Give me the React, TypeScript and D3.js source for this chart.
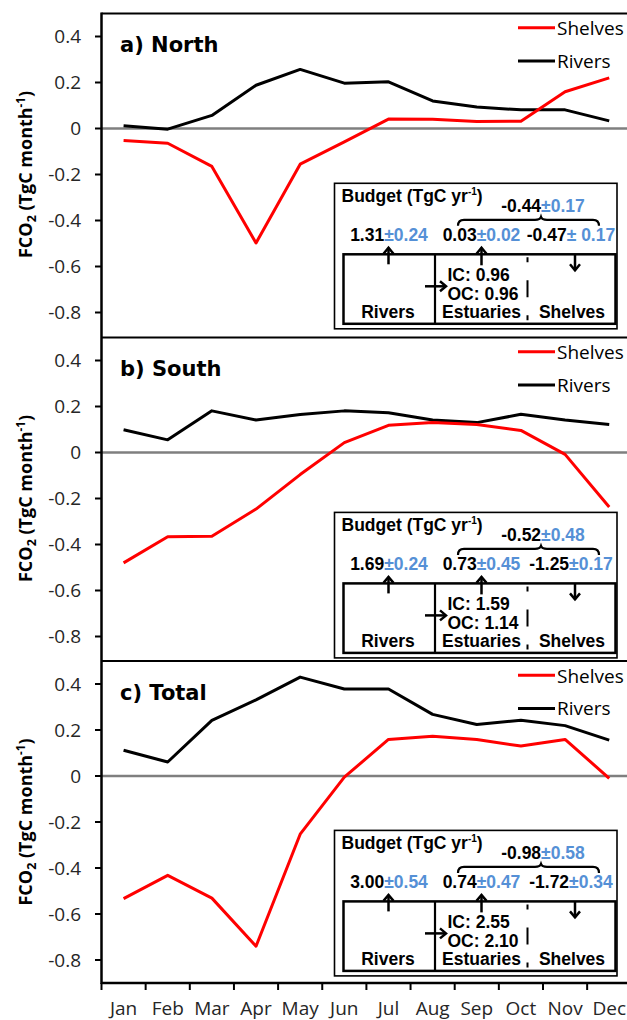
import React from "react";
import * as d3 from "d3";

const months = ["Jan","Feb","Mar","Apr","May","Jun","Jul","Aug","Sep","Oct","Nov","Dec"];
const yTicks = [0.4, 0.2, 0, -0.2, -0.4, -0.6, -0.8];
const yTickLabels = ["0.4","0.2","0","-0.2","-0.4","-0.6","-0.8"];

const panelTitles = ["a) North", "b) South", "c) Total"];

const northRivers = [0.012, -0.003, 0.057, 0.188, 0.257, 0.197, 0.203, 0.12, 0.093, 0.081, 0.081, 0.033];
const northShelves = [-0.052, -0.064, -0.165, -0.498, -0.155, -0.058, 0.041, 0.04, 0.03, 0.032, 0.16, 0.22];
const southRivers = [0.099, 0.055, 0.181, 0.141, 0.165, 0.181, 0.173, 0.141, 0.13, 0.166, 0.141, 0.122];
const southShelves = [-0.48, -0.366, -0.364, -0.246, -0.096, 0.043, 0.118, 0.13, 0.122, 0.096, -0.008, -0.237];
const totalRivers = [0.112, 0.061, 0.242, 0.331, 0.43, 0.378, 0.378, 0.268, 0.224, 0.242, 0.219, 0.156];
const totalShelves = [-0.533, -0.432, -0.531, -0.74, -0.253, -0.005, 0.159, 0.173, 0.159, 0.13, 0.159, -0.01];

const budgetRivers = ["1.31", "1.69", "3.00"];
const budgetRiversErr = ["±0.24", "±0.24", "±0.54"];
const budgetEstuaries = ["0.03", "0.73", "0.74"];
const budgetEstuariesErr = ["±0.02", "±0.45", "±0.47"];
const budgetShelves = ["-0.47", "-1.25", "-1.72"];
const budgetShelvesErr = ["± 0.17", "±0.17", "±0.34"];
const budgetTotal = ["-0.44", "-0.52", "-0.98"];
const budgetTotalErr = ["±0.17", "±0.48", "±0.58"];
const budgetIC = ["0.96", "1.59", "2.55"];
const budgetOC = ["0.96", "1.14", "2.10"];

const riversSeries = [northRivers, southRivers, totalRivers];
const shelvesSeries = [northShelves, southShelves, totalShelves];

const W = 627, H = 1020;
const panelTops = [13.5, 337.5, 661];
const panelH = 322;
const insetTops = [183.3, 512.4, 830.4];
const axisX = 101.5;
const band = 44.15;
const BLUE = "#5590d6";
const tickFont = "'Open Sans', sans-serif";
const boxFont = "'Liberation Sans', Arial, sans-serif";

const x = d3.scaleBand<string>().domain(months).range([axisX, axisX + band * 12]).padding(0);

function Inset({ top, i }: { top: number; i: number }) {
  const innerTop = top + 71;
  const innerBot = top + 140.5;
  const numY = top + 57.5;
  const braceY = top + 36.5;
  const fs = 17.5;
  return (
    <g fontFamily={boxFont} fontWeight="bold" fontSize={fs} fill="#000">
      <rect x={334.5} y={top} width={282.5} height={145.5} fill="#fff" stroke="#000" strokeWidth={1.6} />
      <text x={341.5} y={top + 19}>
        Budget (TgC yr<tspan fontSize={10} dy={-7}>-1</tspan><tspan dy={7}>)</tspan>
      </text>
      <text x={543} y={top + 28.5} textAnchor="middle">
        <tspan>{budgetTotal[i]}</tspan><tspan fill={BLUE}>{budgetTotalErr[i]}</tspan>
      </text>
      <path
        d={`M458,${braceY + 6} Q458,${braceY} 464,${braceY} L535,${braceY} Q540,${braceY} 541,${braceY - 3} Q542,${braceY} 547,${braceY} L593,${braceY} Q599,${braceY} 599,${braceY + 6}`}
        fill="none" stroke="#000" strokeWidth={2.2}
      />
      <text x={389} y={numY} textAnchor="middle">
        <tspan>{budgetRivers[i]}</tspan><tspan fill={BLUE}>{budgetRiversErr[i]}</tspan>
      </text>
      <text x={481.5} y={numY} textAnchor="middle">
        <tspan>{budgetEstuaries[i]}</tspan><tspan fill={BLUE}>{budgetEstuariesErr[i]}</tspan>
      </text>
      <text x={571} y={numY} textAnchor="middle">
        <tspan>{budgetShelves[i]}</tspan><tspan fill={BLUE}>{budgetShelvesErr[i]}</tspan>
      </text>
      <rect x={343.5} y={innerTop} width={272} height={innerBot - innerTop} fill="none" stroke="#000" strokeWidth={2.5} />
      <line x1={435} x2={435} y1={innerTop} y2={innerBot} stroke="#000" strokeWidth={2.2} />
      <line x1={527.5} x2={527.5} y1={innerTop + 3} y2={innerBot} stroke="#000" strokeWidth={2} strokeDasharray="5,18,17,18" />
      <g stroke="#000" strokeWidth={2.5} fill="none">
        <line x1={388.5} x2={388.5} y1={innerTop + 10} y2={numY + 7} />
        <path d={`M383.5,${numY + 13} L388.5,${numY + 7} L393.5,${numY + 13}`} />
        <line x1={481.5} x2={481.5} y1={innerTop + 11} y2={numY + 7} />
        <path d={`M476.5,${numY + 13} L481.5,${numY + 7} L486.5,${numY + 13}`} />
        <line x1={575} x2={575} y1={numY + 14} y2={innerTop + 16} />
        <path d={`M570,${innerTop + 10} L575,${innerTop + 16} L580,${innerTop + 10}`} />
        <line x1={425} x2={446} y1={innerTop + 32} y2={innerTop + 32} />
        <path d={`M440,${innerTop + 27} L446,${innerTop + 32} L440,${innerTop + 37}`} />
      </g>
      <text x={447.5} y={innerTop + 27}>IC: {budgetIC[i]}</text>
      <text x={447.5} y={innerTop + 45.5}>OC: {budgetOC[i]}</text>
      <text x={388} y={innerTop + 64} textAnchor="middle">Rivers</text>
      <text x={481.5} y={innerTop + 64} textAnchor="middle">Estuaries</text>
      <text x={572} y={innerTop + 64} textAnchor="middle">Shelves</text>
    </g>
  );
}

function Panel({ i }: { i: number }) {
  const top = panelTops[i];
  const y = d3.scaleLinear().domain([-0.9, 0.5]).range([top + panelH, top]);
  const line = d3
    .line<number>()
    .x((_, k) => (x(months[k]) as number) + x.bandwidth() / 2)
    .y((d) => y(d));
  const cy = top + panelH / 2;
  return (
    <g>
      {yTicks.map((t, k) => (
        <g key={k}>
          <line x1={axisX - 6.5} x2={axisX} y1={y(t)} y2={y(t)} stroke="#000" strokeWidth={2} />
          <text x={81} y={y(t) + 6.5} textAnchor="end" fontFamily={tickFont} fontSize={19} fill="#262626">
            {yTickLabels[k]}
          </text>
        </g>
      ))}
      <text
        transform={`translate(32,${cy}) rotate(-90)`}
        textAnchor="middle"
        fontFamily={tickFont}
        fontWeight="bold"
        fontSize={18}
        fill="#000"
      >
        FCO<tspan fontSize={12.5} dy={4}>2</tspan>
        <tspan dy={-4}> (TgC month</tspan>
        <tspan fontSize={11.5} dy={-7}>-1</tspan>
        <tspan dy={7}>)</tspan>
      </text>
      <line x1={axisX} x2={W} y1={y(0)} y2={y(0)} stroke="#7f7f7f" strokeWidth={2.5} />
      <path d={line(riversSeries[i]) as string} fill="none" stroke="#000" strokeWidth={3} strokeLinejoin="round" />
      <path d={line(shelvesSeries[i]) as string} fill="none" stroke="#ff0000" strokeWidth={3} strokeLinejoin="round" />
      <line x1={axisX} x2={W} y1={top} y2={top} stroke="#000" strokeWidth={2.2} />
      <text x={120} y={top + 38.5} fontFamily="'DejaVu Sans', sans-serif" fontWeight="bold" fontSize={21} fill="#000">
        {panelTitles[i]}
      </text>
      <line x1={518} x2={555} y1={top + 14.2} y2={top + 14.2} stroke="#ff0000" strokeWidth={3} />
      <text x={557} y={top + 21.5} fontFamily={tickFont} fontSize={19} fill="#000">Shelves</text>
      <line x1={518} x2={555} y1={top + 47.5} y2={top + 47.5} stroke="#000" strokeWidth={3} />
      <text x={557} y={top + 54} fontFamily={tickFont} fontSize={19} fill="#000">Rivers</text>
      <Inset top={insetTops[i]} i={i} />
    </g>
  );
}

export default function App() {
  const bottom = panelTops[2] + panelH;
  const ticksX = d3.range(13).map((k) => axisX + k * x.step());
  return (
    <svg width={W} height={H} style={{ position: "absolute", left: 0, top: 0, background: "#fff" }}>
      <rect width={W} height={H} fill="#fff" />
      {[0, 1, 2].map((i) => (
        <Panel key={i} i={i} />
      ))}
      <line x1={axisX} x2={axisX} y1={panelTops[0] - 1} y2={bottom + 1} stroke="#000" strokeWidth={2.5} />
      <line x1={axisX} x2={W} y1={bottom} y2={bottom} stroke="#000" strokeWidth={2.5} />
      {ticksX.map((tx, k) => (
        <line key={k} x1={tx} x2={tx} y1={bottom} y2={bottom + 7} stroke="#000" strokeWidth={2} />
      ))}
      {months.map((m) => (
        <text
          key={m}
          x={(x(m) as number) + x.bandwidth() / 2}
          y={1014.5}
          textAnchor="middle"
          fontFamily={tickFont}
          fontSize={19}
          fill="#262626"
        >
          {m}
        </text>
      ))}
    </svg>
  );
}
